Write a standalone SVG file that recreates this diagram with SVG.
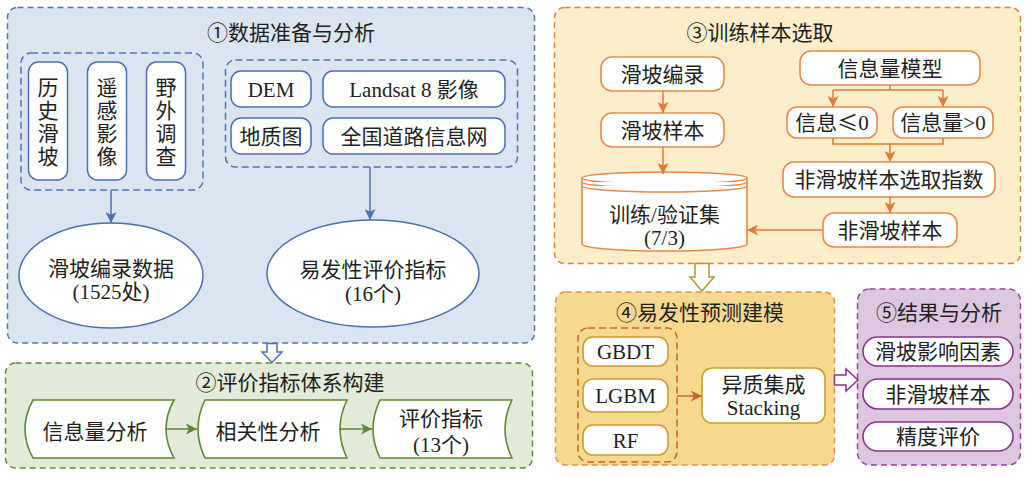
<svg xmlns="http://www.w3.org/2000/svg" width="1031" height="477" viewBox="0 0 1031 477">
<defs>
<style>
text{font-family:"Liberation Serif","Noto Sans CJK SC",serif;font-size:21px;fill:#231f20;text-anchor:middle}
.cjk{font-family:"Noto Sans CJK SC",sans-serif}
.panel{stroke-width:1.5;stroke-dasharray:6 4}
.p1{fill:#dbe5f1;stroke:#4f74b6}
.p2{fill:#e2ebd7;stroke:#5f8a3a}
.p3{fill:#fcedcb;stroke:#d9823d}
.p4{fill:#f6d98f;stroke:#e0934a}
.p5{fill:#ddc6e0;stroke:#9b3e9d}
.grp{fill:none;stroke-width:1.5;stroke-dasharray:7 4}
.nb{fill:#fff;stroke:#4a70b0;stroke-width:1.5}
.ng{fill:#fff;stroke:#5b8a32;stroke-width:1.6}
.no{fill:#fff;stroke:#e8894a;stroke-width:1.6}
.ny{fill:#fff;stroke:#c9a02a;stroke-width:1.6}
.np{fill:#fff;stroke:#8e2f91;stroke-width:1.6}
.cb{fill:none;stroke:#4a70b8;stroke-width:1.5}
.cg{fill:none;stroke:#5b8a32;stroke-width:1.5}
.co{fill:none;stroke:#e07b39;stroke-width:1.5}
.cr{fill:none;stroke:#c9662a;stroke-width:1.5}
</style>
<marker id="mb" viewBox="0 0 10 10" refX="10" refY="5" markerWidth="11" markerHeight="11" markerUnits="userSpaceOnUse" orient="auto"><path d="M0,0 L10,5 L0,10 L2.5,5 z" fill="#4a70b8"/></marker>
<marker id="mg" viewBox="0 0 10 10" refX="10" refY="5" markerWidth="11" markerHeight="11" markerUnits="userSpaceOnUse" orient="auto"><path d="M0,0 L10,5 L0,10 L2.5,5 z" fill="#5b8a32"/></marker>
<marker id="mo" viewBox="0 0 10 10" refX="10" refY="5" markerWidth="11" markerHeight="11" markerUnits="userSpaceOnUse" orient="auto"><path d="M0,0 L10,5 L0,10 L2.5,5 z" fill="#e07b39"/></marker>
<marker id="mr" viewBox="0 0 10 10" refX="10" refY="5" markerWidth="11" markerHeight="11" markerUnits="userSpaceOnUse" orient="auto"><path d="M0,0 L10,5 L0,10 L2.5,5 z" fill="#c9662a"/></marker>
</defs>

<!-- Panels -->
<g id="panel1">
<rect class="panel p1" x="7.5" y="7.5" width="527" height="335.5" rx="10"/>
<text x="291" y="40">①数据准备与分析</text>
<rect class="grp" x="21" y="53" width="182" height="137" rx="10" stroke="#4f74b6"/>
<rect class="grp" x="225.5" y="60" width="292" height="107" rx="10" stroke="#4f74b6"/>
</g>
<g id="panel2">
<rect class="panel p2" x="5.5" y="363" width="527" height="105" rx="10"/>
<text x="290" y="390">②评价指标体系构建</text>
</g>
<g id="panel3">
<rect class="panel p3" x="554.5" y="7.5" width="466" height="256" rx="10"/>
<text x="760" y="40">③训练样本选取</text>
</g>
<g id="panel4">
<rect class="panel p4" x="555.5" y="292" width="279" height="173" rx="10"/>
<text x="700" y="320">④易发性预测建模</text>
<rect class="grp" x="578" y="328" width="99" height="134" rx="10" stroke="#c9662a"/>
</g>
<g id="panel5">
<rect class="panel p5" x="857.5" y="289" width="163" height="176" rx="12"/>
<text x="939" y="320">⑤结果与分析</text>
</g>

<!-- Panel 1 nodes -->
<g id="n-lsht">
<rect class="nb" x="28.5" y="62" width="39" height="118" rx="10"/>
<text x="48"><tspan x="48" y="94.5">历</tspan><tspan x="48" y="117.8">史</tspan><tspan x="48" y="141">滑</tspan><tspan x="48" y="164.3">坡</tspan></text>
</g>
<g id="n-ygyx">
<rect class="nb" x="87.5" y="62" width="39" height="118" rx="10"/>
<text x="107"><tspan x="107" y="94.5">遥</tspan><tspan x="107" y="117.8">感</tspan><tspan x="107" y="141">影</tspan><tspan x="107" y="164.3">像</tspan></text>
</g>
<g id="n-ywdc">
<rect class="nb" x="146.5" y="62" width="39" height="118" rx="10"/>
<text x="166"><tspan x="166" y="94.5">野</tspan><tspan x="166" y="117.8">外</tspan><tspan x="166" y="141">调</tspan><tspan x="166" y="164.3">查</tspan></text>
</g>
<g id="n-dem">
<rect class="nb" x="231" y="71" width="80" height="36" rx="10"/>
<text x="271" y="96.5">DEM</text>
</g>
<g id="n-landsat">
<rect class="nb" x="323" y="71" width="182" height="36" rx="10"/>
<text x="414" y="96.5">Landsat 8 影像</text>
</g>
<g id="n-dzt">
<rect class="nb" x="231" y="118" width="80" height="36" rx="10"/>
<text x="271" y="143.5">地质图</text>
</g>
<g id="n-road">
<rect class="nb" x="323" y="118" width="182" height="36" rx="10"/>
<text x="414" y="143.5">全国道路信息网</text>
</g>
<g id="n-hpbl">
<ellipse class="nb" cx="111" cy="275.5" rx="92" ry="52.5"/>
<text x="111" y="275.5">滑坡编录数据</text>
<text x="111" y="299">(1525处)</text>
</g>
<g id="n-yfx">
<ellipse class="nb" cx="373" cy="273.5" rx="106" ry="53.5"/>
<text x="373" y="276.5">易发性评价指标</text>
<text x="373" y="301">(16个)</text>
</g>

<!-- Panel 2 nodes -->
<g id="n-xxl">
<path class="ng" d="M33,400 Q17,429 33,458 L174,458 Q158,429 174,400 Z"/>
<text x="95" y="439">信息量分析</text>
</g>
<g id="n-xgx">
<path class="ng" d="M205,400 Q191,429 205,458 L347,458 Q333,429 347,400 Z"/>
<text x="268" y="439">相关性分析</text>
</g>
<g id="n-pjzb">
<path class="ng" d="M380,400 Q366,429 380,458 L512,458 Q498,429 512,400 Z"/>
<text x="441" y="425.5">评价指标</text>
<text x="441" y="452">(13个)</text>
</g>

<!-- Panel 3 nodes -->
<g id="n-hpbl2">
<rect class="no" x="601" y="57" width="123" height="34" rx="11"/>
<text x="662.5" y="81.5">滑坡编录</text>
</g>
<g id="n-hpyb">
<rect class="no" x="601" y="113" width="123" height="34" rx="11"/>
<text x="662.5" y="137.5">滑坡样本</text>
</g>
<g id="n-xxlmx">
<rect class="no" x="800" y="51" width="180" height="34" rx="11"/>
<text x="890" y="75.5">信息量模型</text>
</g>
<g id="n-le0">
<rect class="no" x="787" y="107" width="90" height="31" rx="10"/>
<text x="832" y="130">信息<tspan class="cjk">≤</tspan>0</text>
</g>
<g id="n-gt0">
<rect class="no" x="893" y="107" width="100" height="31" rx="10"/>
<text x="943" y="130">信息量&gt;0</text>
</g>
<g id="n-fhpzs">
<rect class="no" x="783" y="162" width="212" height="35" rx="11"/>
<text x="889" y="187">非滑坡样本选取指数</text>
</g>
<g id="n-fhpyb">
<rect class="no" x="823" y="213" width="134" height="34" rx="11"/>
<text x="890" y="237.5">非滑坡样本</text>
</g>
<g id="n-train">
<path class="no" d="M582,178 V244 A82.5,7 0 0 0 747,244 V178"/>
<ellipse class="no" cx="664.5" cy="178" rx="82.5" ry="6"/>
<path class="no" fill="none" d="M582,182 A82.5,6 0 0 0 747,182"/>
<path class="no" fill="none" d="M582,186 A82.5,6 0 0 0 747,186"/>
<text x="664.5" y="222">训练/验证集</text>
<text x="664.5" y="245">(7/3)</text>
</g>

<!-- Panel 4 nodes -->
<g id="n-gbdt">
<rect class="ny" x="583" y="337" width="85" height="29" rx="10"/>
<text x="625.5" y="359">GBDT</text>
</g>
<g id="n-lgbm">
<rect class="ny" x="583" y="379" width="85" height="33" rx="10"/>
<text x="625.5" y="403">LGBM</text>
</g>
<g id="n-rf">
<rect class="ny" x="583" y="425" width="85" height="30" rx="10"/>
<text x="625.5" y="447.5">RF</text>
</g>
<g id="n-stack">
<rect class="ny" x="702" y="368" width="123" height="55" rx="10"/>
<text x="763.5" y="392">异质集成</text>
<text x="763.5" y="415">Stacking</text>
</g>

<!-- Panel 5 nodes -->
<g id="n-yxys">
<rect class="np" x="863" y="337" width="150" height="29" rx="14.5"/>
<text x="938" y="359">滑坡影响因素</text>
</g>
<g id="n-fhp5">
<rect class="np" x="863" y="379" width="150" height="30" rx="15"/>
<text x="938" y="401.5">非滑坡样本</text>
</g>
<g id="n-jdpj">
<rect class="np" x="863" y="422" width="150" height="29" rx="14.5"/>
<text x="938" y="444">精度评价</text>
</g>

<!-- Connectors -->
<g id="connectors">
<line class="cb" x1="111" y1="190" x2="111" y2="223" marker-end="url(#mb)"/>
<line class="cb" x1="370" y1="167" x2="370" y2="220" marker-end="url(#mb)"/>
<line class="cg" x1="166" y1="429" x2="197" y2="429" marker-end="url(#mg)"/>
<line class="cg" x1="340" y1="429" x2="372" y2="429" marker-end="url(#mg)"/>
<line class="co" x1="663" y1="91" x2="663" y2="113" marker-end="url(#mo)"/>
<line class="co" x1="663" y1="147" x2="663" y2="174" marker-end="url(#mo)"/>
<path class="co" d="M890,85 V90 M833,90 H943"/>
<line class="co" x1="833" y1="90" x2="833" y2="107" marker-end="url(#mo)"/>
<line class="co" x1="943" y1="90" x2="943" y2="107" marker-end="url(#mo)"/>
<path class="co" d="M833,138 V144 H943 V138"/>
<line class="co" x1="890" y1="144" x2="890" y2="162" marker-end="url(#mo)"/>
<line class="co" x1="890" y1="197" x2="890" y2="213" marker-end="url(#mo)"/>
<line class="co" x1="823" y1="230" x2="747" y2="230" marker-end="url(#mo)"/>
<line class="cr" x1="677" y1="396" x2="702" y2="396" marker-end="url(#mr)"/>
<path d="M267,343.5 H277 V352 H282 L272,362.5 L262,352 H267 Z" fill="#fff" stroke="#4a70b8" stroke-width="1.5"/>
<path d="M695,263.5 H709 V277 H714 L702,291 L690,277 H695 Z" fill="#fff" stroke="#b8962e" stroke-width="1.5"/>
<path d="M834.5,375 H846 V369 L858,380 L846,391 V385 H834.5 Z" fill="#fff" stroke="#8e2f91" stroke-width="1.5"/>
</g>
</svg>
